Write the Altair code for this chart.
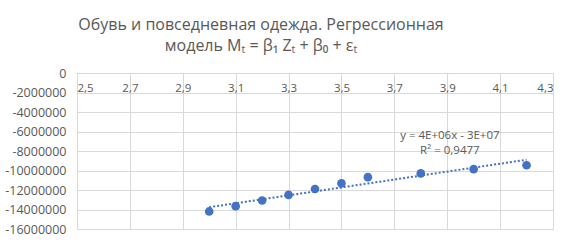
import altair as alt
import pandas as pd

# Data
z_vals = [3.0, 3.1, 3.2, 3.3, 3.4, 3.5, 3.6, 3.8, 4.0, 4.2]
m_vals = [-14200000, -13660000, -13080000, -12500000, -11900000,
          -11320000, -10680000, -10300000, -9860000, -9460000]
x_ticks = [2.5, 2.7, 2.9, 3.1, 3.3, 3.5, 3.7, 3.9, 4.1, 4.3]
y_ticks = [0, -2000000, -4000000, -6000000, -8000000, -10000000,
           -12000000, -14000000, -16000000]
eq_lines = ["y = 4E+06x - 3E+07", "R² = 0,9477"]
eq_pos = {"x": 3.91, "y": -6500000}

df = pd.DataFrame({"x": z_vals, "y": m_vals})
lab = pd.DataFrame({"x": [eq_pos["x"]], "y": [eq_pos["y"]], "t": [eq_lines]})

BLUE = "#4472C4"
GRAY = "#595959"
FONT = "Open Sans"

xs = alt.Scale(domain=[2.5, 4.3], nice=False, zero=False)
ys = alt.Scale(domain=[-16000000, 0], nice=False)

xaxis = alt.Axis(orient="top", values=x_ticks, format=".1f",
                 labelExpr="replace(datum.label, '.', ',')",
                 labelPadding=-20, ticks=False, domain=True,
                 domainColor="#d9d9d9", gridColor="#d9d9d9",
                 labelOverlap=False,
                 labelColor=GRAY, labelFont=FONT, labelFontSize=11.5)
yaxis = alt.Axis(values=y_ticks, labelExpr="'' + datum.value",
                 ticks=False, labelOverlap=False, tickCount=9,
                 domain=False, gridColor="#d9d9d9", labelPadding=11,
                 labelColor=GRAY, labelFont=FONT, labelFontSize=12.5)

X = alt.X("x:Q", scale=xs, title=None, axis=xaxis)
Y = alt.Y("y:Q", scale=ys, title=None, axis=yaxis)

base = alt.Chart(df)

points = base.mark_circle(size=75, color=BLUE, opacity=1).encode(x=X, y=Y)

trend = base.transform_regression("x", "y", extent=[3.0, 4.2]).mark_line(
    color=BLUE, strokeWidth=2, strokeDash=[2, 2]
).encode(x=X, y=Y)

eq = alt.Chart(lab).mark_text(
    font=FONT, fontSize=11.5, color=GRAY, lineHeight=15, align="center",
    baseline="middle"
).encode(x=X, y=Y, text="t")

chart = alt.layer(points, trend, eq).properties(
    width=476, height=156,
    title=alt.TitleParams(
        ["Обувь и повседневная одежда. Регрессионная",
         "модель Mₜ = β₁ Zₜ + β₀ + εₜ"],
        font=FONT, fontSize=16, fontWeight="normal", color=GRAY,
        anchor="middle", dx=-54, offset=13, lineHeight=21),
    autosize=alt.AutoSizeParams(type="none"),
    padding={"left": 77, "top": 73, "right": 24, "bottom": 16},
).configure_view(stroke=None).configure(background="white")

chart.save("out.html", embed_options={"renderer": "svg", "actions": False})
